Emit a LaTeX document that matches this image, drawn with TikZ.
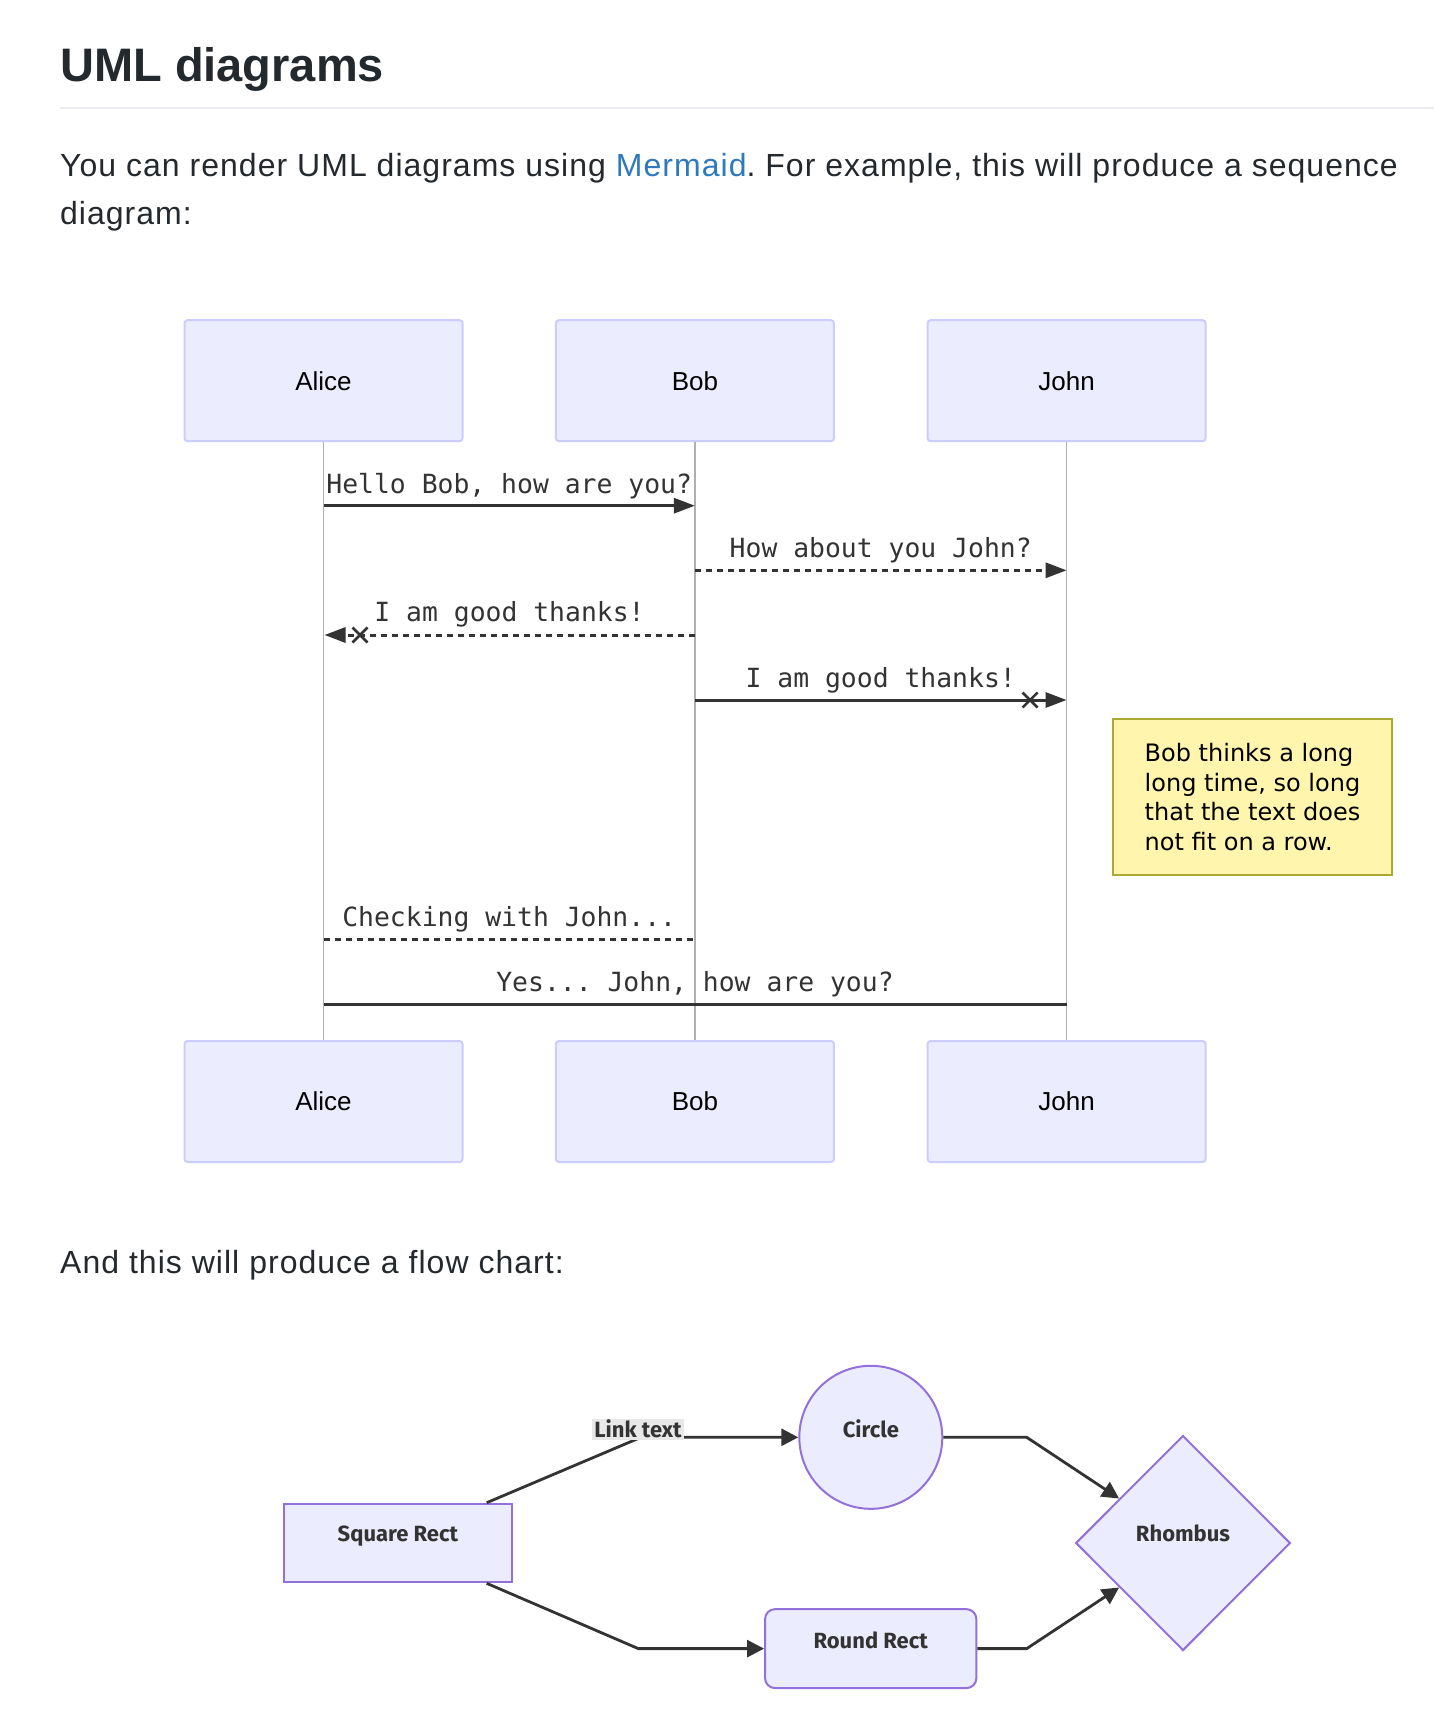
\documentclass[tikz,border=0pt]{standalone}
\usepackage{fontspec}
\setmainfont{Liberation Sans}
\newfontfamily\bodyfont[LetterSpace=3.2]{Liberation Sans}
\newfontfamily\actorfont{Liberation Sans}
\newfontfamily\msgfont{DejaVu Sans Mono}
\newfontfamily\notefont{DejaVu Sans}
\newfontfamily\flowfont{Fira Sans}
\usetikzlibrary{arrows.meta,shapes.geometric,calc}
\frenchspacing
\definecolor{txt}{RGB}{36,41,46}
\definecolor{linkblue}{RGB}{46,122,192}
\definecolor{rulegray}{RGB}{234,236,239}
\definecolor{actfill}{RGB}{236,236,255}
\definecolor{actdraw}{RGB}{204,204,255}
\definecolor{lifegray}{RGB}{175,175,175}
\definecolor{msgcol}{RGB}{51,51,51}
\definecolor{notefill}{RGB}{255,245,173}
\definecolor{notedraw}{RGB}{170,170,51}
\definecolor{flowdraw}{RGB}{147,112,219}
\definecolor{labelbg}{RGB}{232,232,232}
\begin{document}
\frenchspacing
\begin{tikzpicture}[x=1pt,y=-1pt,
  body/.style={font=\bodyfont\frenchspacing\fontsize{32}{48}\selectfont, text=txt, inner sep=0pt, anchor=base west},
  actor/.style={draw=actdraw, fill=actfill, line width=2pt, rounded corners=3pt,
    minimum width=278pt, minimum height=121pt, inner sep=0pt,
    font=\actorfont\fontsize{26}{30}\selectfont, text=black, text height=18.6pt, text depth=0pt},
  lifeline/.style={draw=lifegray, line width=1.5pt},
  msg/.style={draw=msgcol, line width=3pt},
  msgdash/.style={msg, dash pattern=on 6pt off 5pt},
  tip/.style={-{Triangle[length=21pt,width=15pt]}},
  msgtext/.style={font=\msgfont\frenchspacing\fontsize{26.4}{30}\selectfont, text=msgcol, inner sep=0pt, anchor=base},
  cross/.style={draw=msgcol, line width=2.5pt},
  note/.style={draw=notedraw, fill=notefill, line width=2pt, minimum width=279pt, minimum height=156pt,
    inner sep=0pt, align=left, font=\notefont\fontsize{24}{29.7}\selectfont, text=black},
  fnode/.style={draw=flowdraw, fill=actfill, line width=2pt, inner sep=0pt,
    font=\flowfont\bfseries\fontsize{22}{26}\selectfont, text=msgcol},
  edge/.style={draw=msgcol, line width=2.8pt},
  ftip/.style={-{Triangle[length=17pt,width=17pt]}},
  linklabel/.style={fill=labelbg, inner sep=0pt, minimum width=92pt, minimum height=21.3pt,
    font=\flowfont\bfseries\fontsize{22}{26}\selectfont, text=msgcol, text height=17pt, text depth=1pt}
]
\fill[white] (0,0) rectangle (1434,1720);
\useasboundingbox (0,0) rectangle (1434,1720);

% header
\node[inner sep=0pt, anchor=base west, font=\bfseries\fontsize{47}{56}\selectfont, text=txt] (title) at (60,82) {UML diagrams};
\coordinate (ruleL) at (60,108.5);
\coordinate (ruleR) at (1434,108.5);
\draw[rulegray, line width=2pt] (ruleL) -- (ruleR);
\node[body] (p1) at (60,177) {You can render UML diagrams using {\color{linkblue}Mermaid}. For example, this will produce a sequence};
\node[body] (p2) at (60,224.5) {diagram:};

% actors
\node[actor] (aliceT) at (323.5,380.7) {Alice};
\node[actor] (bobT)   at (694.9,380.7) {Bob};
\node[actor] (johnT)  at (1066.6,380.7) {John};
\node[actor] (aliceB) at (323.5,1101.5) {Alice};
\node[actor] (bobB)   at (694.9,1101.5) {Bob};
\node[actor] (johnB)  at (1066.6,1101.5) {John};
\draw[lifeline] (aliceT.south) -- (aliceB.north);
\draw[lifeline] (bobT.south) -- (bobB.north);
\draw[lifeline] (johnT.south) -- (johnB.north);

% message 1
\coordinate (m1a) at (323.5,505.7);
\coordinate (m1b) at (694.9,505.7);
\draw[msg, tip] (m1a) -- (m1b);
\node[msgtext] (t1) at (509.2,493) {Hello Bob, how are you?};
% message 2
\coordinate (m2a) at (694.9,570.3);
\coordinate (m2b) at (1066.6,570.3);
\draw[msgdash, tip] (m2a) -- (m2b);
\node[msgtext] (t2) at (880.7,557.7) {How about you John?};
% message 3
\coordinate (m3a) at (694.9,635);
\coordinate (m3b) at (324.5,635);
\draw[msgdash, tip] (m3a) -- (m3b);
\coordinate (x3) at (360,635);
\draw[cross] ($(x3)+(-7.5,-7.5)$) -- ($(x3)+(7.5,7.5)$);
\draw[cross] ($(x3)+(-7.5,7.5)$) -- ($(x3)+(7.5,-7.5)$);
\node[msgtext] (t3) at (509.5,621.7) {I am good thanks!};
% message 4
\coordinate (m4a) at (694.9,700);
\coordinate (m4b) at (1066.6,700);
\draw[msg, tip] (m4a) -- (m4b);
\coordinate (x4) at (1030,700);
\draw[cross] ($(x4)+(-7.5,-7.5)$) -- ($(x4)+(7.5,7.5)$);
\draw[cross] ($(x4)+(-7.5,7.5)$) -- ($(x4)+(7.5,-7.5)$);
\node[msgtext] (t4) at (880.7,687.7) {I am good thanks!};
% note
\node[note] (note) at (1252.5,797) {Bob thinks a long\\long time, so long\\that the text does\\not fit on a row.};
% message 5
\coordinate (m5a) at (323.5,939);
\coordinate (m5b) at (694.9,939);
\draw[msgdash] (m5a) -- (m5b);
\node[msgtext] (t5) at (509.2,926.7) {Checking with John...};
% message 6
\coordinate (m6a) at (323.5,1004.3);
\coordinate (m6b) at (1066.6,1004.3);
\draw[msg] (m6a) -- (m6b);
\node[msgtext] (t6) at (695,991.7) {Yes... John, how are you?};

% second paragraph
\node[body] (p3) at (60,1273.5) {And this will produce a flow chart:};

% flow chart
\node[fnode, rectangle, minimum width=228.3pt, minimum height=78.6pt, text height=15pt, text depth=17.6pt] (sq) at (397.9,1543) {Square Rect};
\node[fnode, circle, minimum size=143pt, text height=15pt, text depth=15pt] (circ) at (870.8,1437.3) {Circle};
\node[fnode, rectangle, rounded corners=10pt, minimum width=211.3pt, minimum height=79pt, text height=15pt, text depth=15pt] (rr) at (870.7,1648.6) {Round Rect};
\node[fnode, diamond, minimum width=214.6pt, minimum height=215pt, text height=15pt, text depth=17.6pt] (rh) at (1183,1543) {Rhombus};

\coordinate (c1) at (641,1437.3);
\coordinate (c2) at (638.3,1648.6);
\coordinate (c3) at (1026.7,1437.3);
\coordinate (c4) at (1026.7,1648.6);
\draw[edge, ftip] ([xshift=88.8pt]sq.north) -- (c1) -- (circ.west);
\node[linklabel] (lt) at (638,1429.35) {Link text};
\draw[edge, ftip] ([xshift=88.8pt]sq.south) -- (c2) -- (rr.west);
\draw[edge, ftip] (circ.east) -- (c3) -- ($(rh.west)!0.41!(rh.north)$);
\draw[edge, ftip] (rr.east) -- (c4) -- ($(rh.west)!0.41!(rh.south)$);
\end{tikzpicture}
\end{document}
